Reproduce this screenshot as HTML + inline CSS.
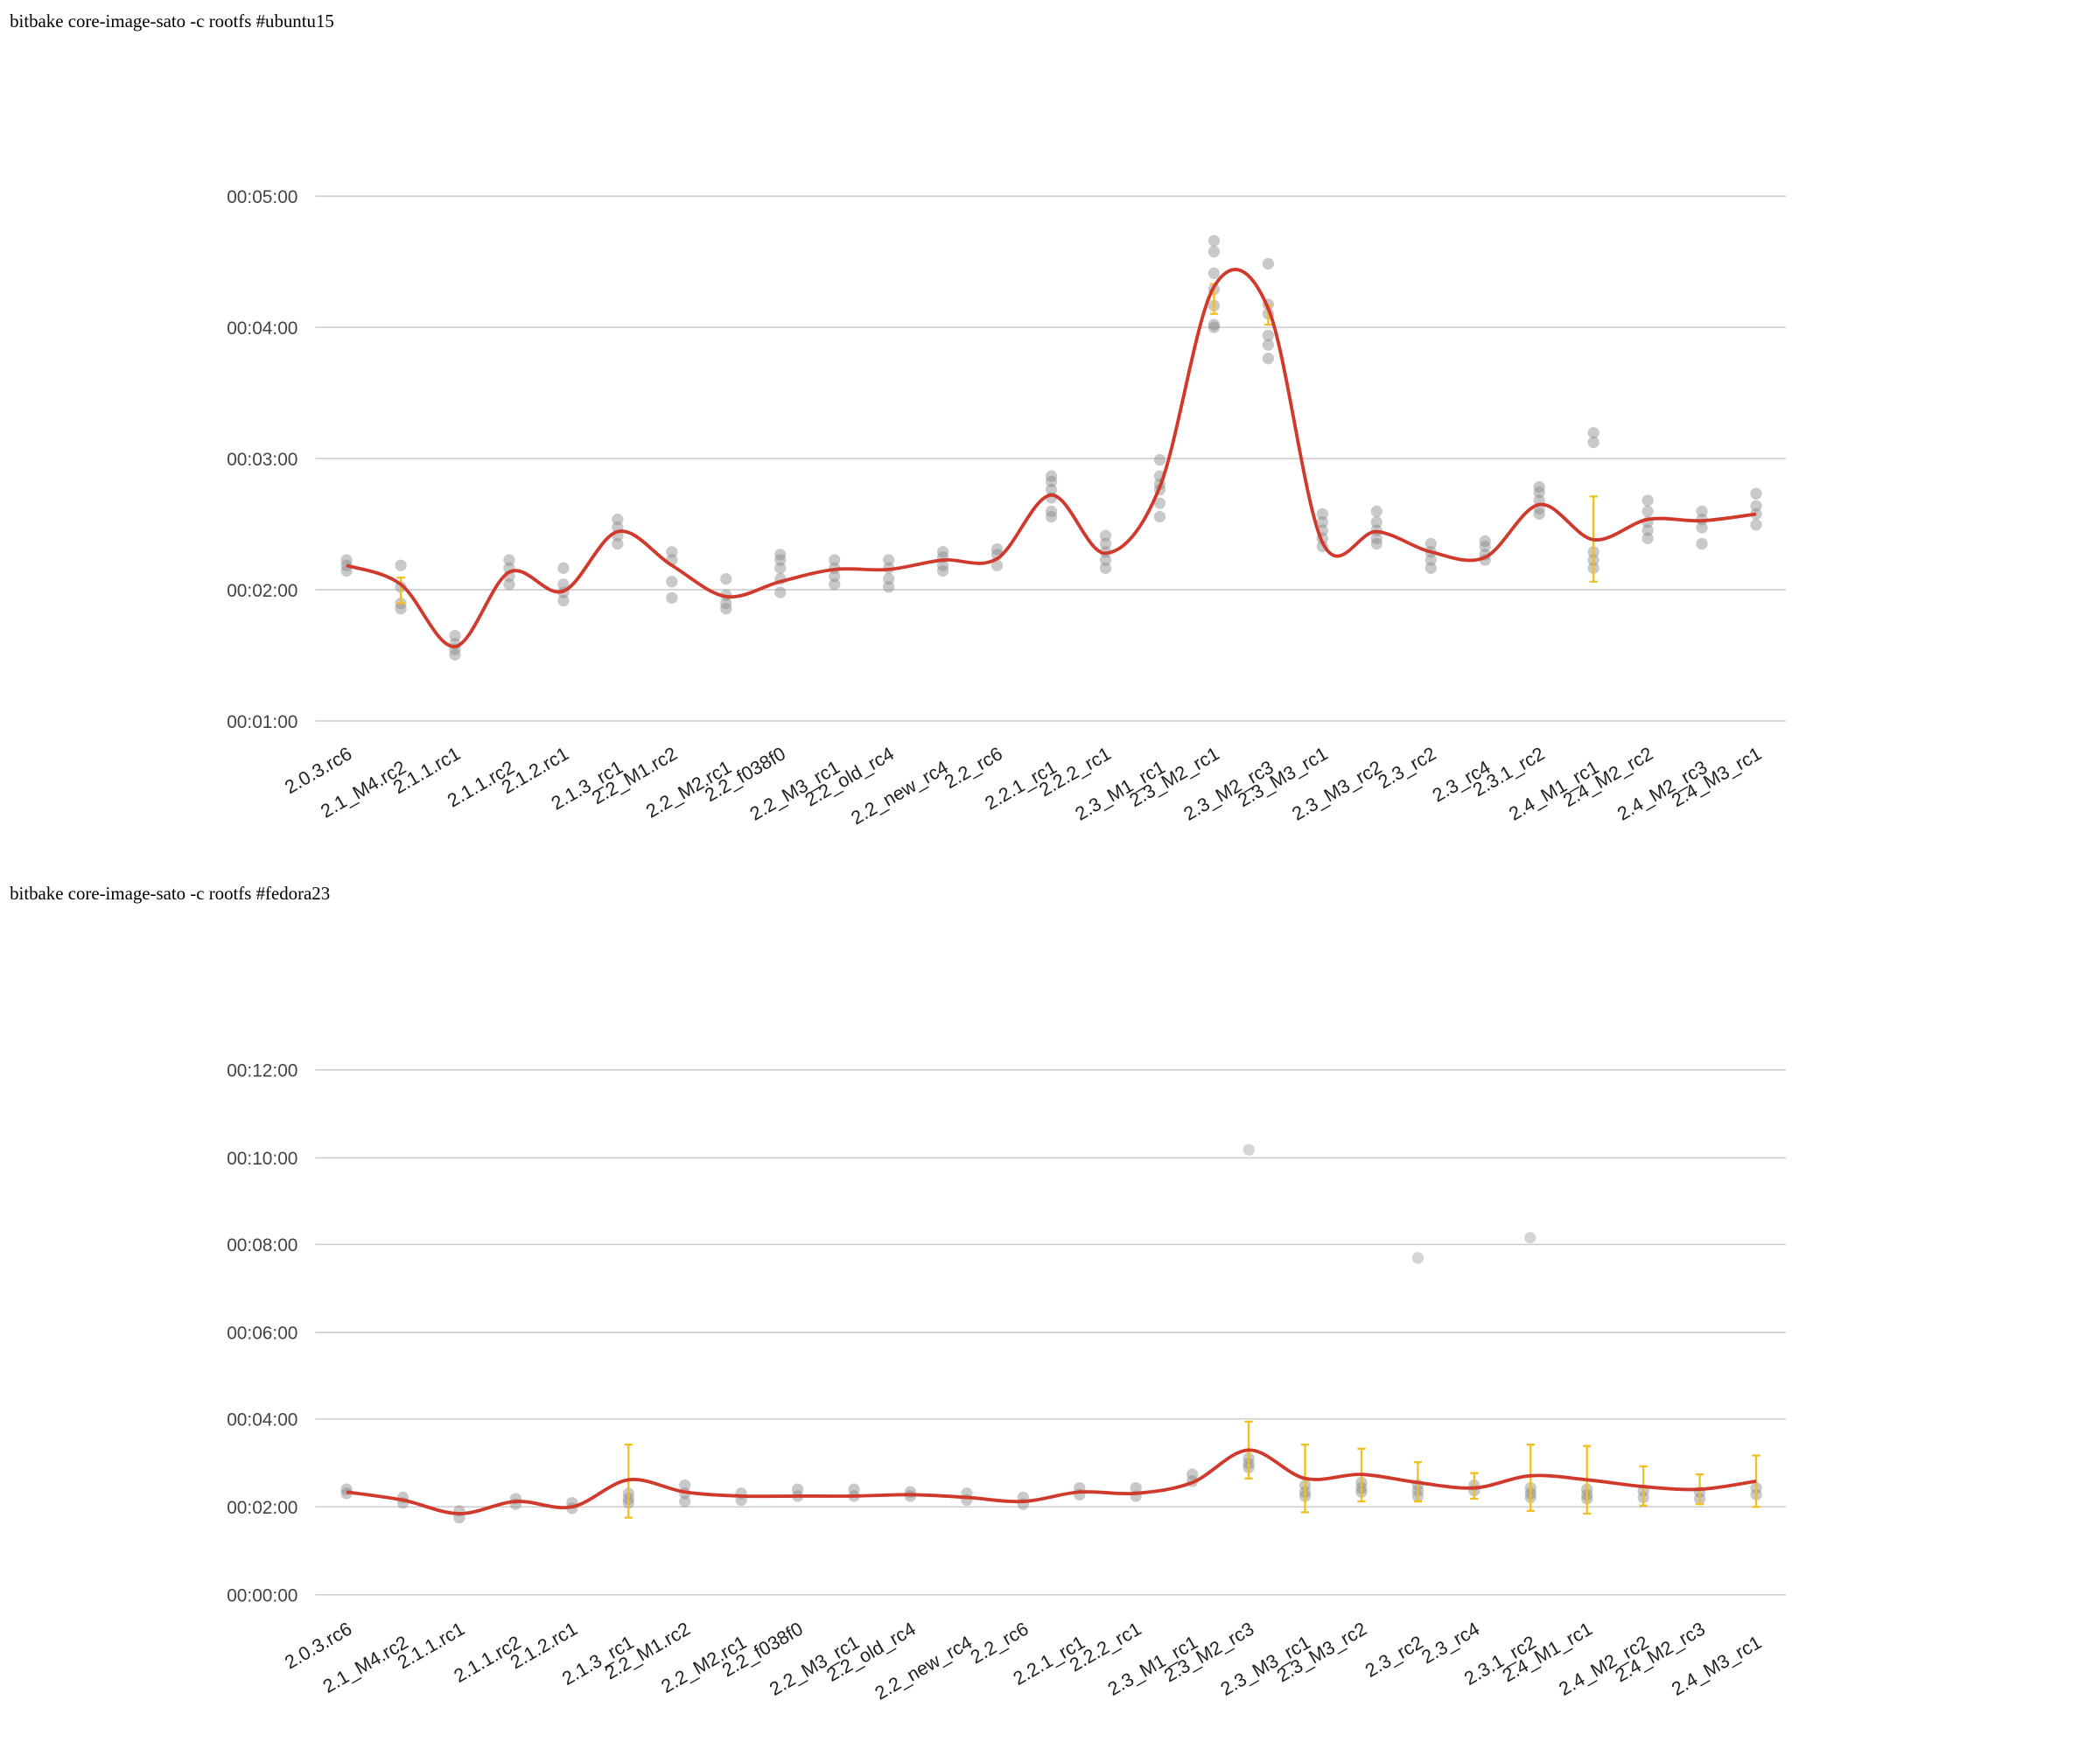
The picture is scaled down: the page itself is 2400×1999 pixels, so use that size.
<!DOCTYPE html>
<html><head><meta charset="utf-8"><style>
html,body{margin:0;padding:0;background:#fff;width:2400px;height:1999px;overflow:hidden}
svg{display:block}
</style></head><body>
<svg id="s" width="2400" height="1999" viewBox="0 0 1552 1293" xmlns="http://www.w3.org/2000/svg">
<text x="7" y="20" font-family="Liberation Serif, serif" font-size="13.5" fill="#000">bitbake core-image-sato -c rootfs #ubuntu15</text>
<text x="7" y="665" font-family="Liberation Serif, serif" font-size="13.5" fill="#000">bitbake core-image-sato -c rootfs #fedora23</text>
<g id="g"></g>
</svg>
<script>
var NS="http://www.w3.org/2000/svg",g=document.getElementById('g');
function el(t,a,txt){var e=document.createElementNS(NS,t);for(var k in a)e.setAttribute(k,a[k]);if(txt!==undefined)e.textContent=txt;g.appendChild(e);return e;}
function path(xs,ys){var d="M"+xs[0]+","+ys[0];for(var i=0;i<xs.length-1;i++){var x0=xs[Math.max(i-1,0)],y0=ys[Math.max(i-1,0)],x1=xs[i],y1=ys[i],x2=xs[i+1],y2=ys[i+1],x3=xs[Math.min(i+2,xs.length-1)],y3=ys[Math.min(i+2,xs.length-1)];var t=0.33;d+=" C"+(x1+(x2-x0)*t/2)+","+(y1+(y2-y0)*t/2)+" "+(x2-(x3-x1)*t/2)+","+(y2-(y3-y1)*t/2)+" "+x2+","+y2;}return d;}
function chart(o){
 o.grid.forEach(function(gr){el('line',{x1:233,x2:1320,y1:gr[0],y2:gr[0],stroke:'#ccc','stroke-width':1});el('text',{x:220,y:gr[0]+5,'text-anchor':'end','font-family':'Liberation Sans, sans-serif','font-size':13.5,fill:'#444'},gr[1]);});
 var n=o.labels.length,xs=[];for(var i=0;i<n;i++)xs.push(256+i*1042/(n-1));
 o.labels.forEach(function(l,i){var x=xs[i]+5,y=o.ly+(i%2?10:0);el('text',{x:x,y:y,'text-anchor':'end','font-family':'Liberation Sans, sans-serif','font-size':14,fill:'#222',transform:'rotate(-30 '+x+' '+y+')'},l);});
 o.dots.forEach(function(ds,i){ds.forEach(function(y){el('circle',{cx:xs[i],cy:y,r:4.3,fill:'#888','fill-opacity':0.45});});});
 o.err.forEach(function(e){var x=xs[e[0]];el('line',{x1:x,x2:x,y1:e[1],y2:e[2],stroke:'#f0c020','stroke-width':1.5});el('line',{x1:x-3,x2:x+3,y1:e[1],y2:e[1],stroke:'#f0c020','stroke-width':1.5});el('line',{x1:x-3,x2:x+3,y1:e[2],y2:e[2],stroke:'#f0c020','stroke-width':1.5});});
 (o.extra||[]).forEach(function(p){el('circle',{cx:p[0],cy:p[1],r:4.3,fill:'#888','fill-opacity':0.35});});
 el('path',{d:path(xs,o.line),fill:'none',stroke:'#d03a2c','stroke-width':2.5});
}
var L1=["2.0.3.rc6","2.1_M4.rc2","2.1.1.rc1","2.1.1.rc2","2.1.2.rc1","2.1.3_rc1","2.2_M1.rc2","2.2_M2.rc1","2.2_f038f0","2.2_M3_rc1","2.2_old_rc4","2.2_new_rc4","2.2_rc6","2.2.1_rc1","2.2.2_rc1","2.3_M1_rc1","2.3_M2_rc1","2.3_M2_rc3","2.3_M3_rc1","2.3_M3_rc2","2.3_rc2","2.3_rc4","2.3.1_rc2","2.4_M1_rc1","2.4_M2_rc2","2.4_M2_rc3","2.4_M3_rc1"];
chart({grid:[[145,"00:05:00"],[242,"00:04:00"],[339,"00:03:00"],[436,"00:02:00"],[533,"00:01:00"]],labels:L1,ly:560,
line:[418,432,478,423,437,393,418,441,430,421,421,414,413,366,409,360,212,228,401,393,408,412,373,399,384,385,380],
dots:[[414,418,422],[418,434,446,450],[470,476,480,484],[414,420,426,432],[420,432,438,444],[384,390,396,402],[408,414,430,442],[428,440,446,450],[410,414,420,428,438],[414,420,426,432],[414,420,428,434],[408,412,418,422],[406,410,418],[352,356,362,368,378,382],[396,402,408,414,420],[340,352,358,362,372,382],[178,186,202,214,226,240,242],[195,225,232,248,255,265],[380,386,392,398,404],[378,386,392,398,402],[402,408,414,420],[400,404,410,414],[360,364,370,376,380],[320,327,408,414,420],[370,378,386,392,398],[378,384,390,402],[365,374,380,388]],
err:[[1,427,446],[23,367,430],[16,210,232],[17,226,240]]});
var L2=L1.slice();L2.splice(16,1);
chart({grid:[[791,"00:12:00"],[856,"00:10:00"],[920,"00:08:00"],[985,"00:06:00"],[1049,"00:04:00"],[1114,"00:02:00"],[1179,"00:00:00"]],labels:L2,ly:1207,
line:[1103,1109,1119,1110,1114,1094,1103,1106,1106,1106,1105,1107,1110,1103,1104,1096,1072,1093,1090,1096,1100,1091,1094,1099,1101,1095],
dots:[[1101,1104],[1107,1111],[1117,1122],[1108,1112],[1111,1115],[1104,1108,1111],[1098,1104,1110],[1104,1109],[1101,1106],[1101,1106],[1103,1106],[1104,1109],[1107,1112],[1100,1105],[1100,1106],[1090,1095],[1078,1082,1085],[1098,1103,1106],[1096,1100,1103],[1098,1102,1106],[1098,1102],[1100,1104,1107],[1101,1105,1108],[1102,1107],[1103,1108],[1100,1105]],
err:[[5,1068,1122],[16,1051,1093],[17,1068,1118],[18,1071,1110],[19,1081,1110],[20,1089,1108],[21,1068,1117],[22,1069,1119],[23,1084,1113],[24,1090,1112],[25,1076,1114]],
extra:[[923,850],[1048,930],[1131,915]]});
</script>
</body></html>
